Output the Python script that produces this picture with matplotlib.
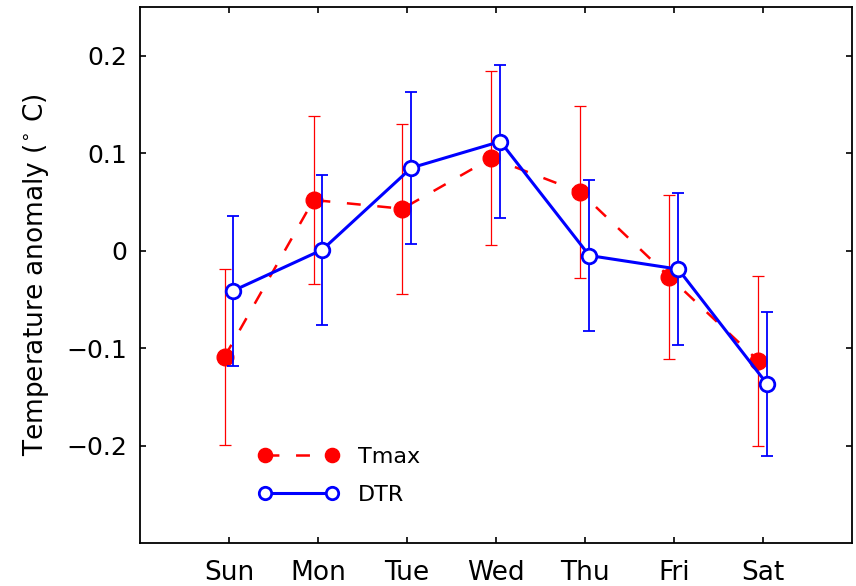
import matplotlib
matplotlib.use('Agg')
import matplotlib.pyplot as plt
import numpy as np

plt.rcParams['font.family'] = ['DejaVu Sans']
plt.rcParams['lines.scale_dashes'] = False

# data
days = ['Sun', 'Mon', 'Tue', 'Wed', 'Thu', 'Fri', 'Sat']
tmax = [-0.109, 0.052, 0.043, 0.095, 0.060, -0.027, -0.113]
tmax_err = [0.090, 0.086, 0.087, 0.089, 0.088, 0.084, 0.087]
dtr = [-0.041, 0.001, 0.085, 0.112, -0.005, -0.019, -0.137]
dtr_err = [0.077, 0.077, 0.078, 0.078, 0.077, 0.078, 0.074]
yticks = [-0.2, -0.1, 0, 0.1, 0.2]
ytick_labels = ['\u22120.2', '\u22120.1', '0', '0.1', '0.2']

x = np.arange(1, len(days) + 1)
dx = 0.05  # small horizontal shift so the bars don't overlap

fig = plt.figure(figsize=(8.56, 5.86), dpi=100)
ax = fig.add_axes([0.1636, 0.0734, 0.8314, 0.9146])

# Tmax - red, dashed, filled circles
ax.errorbar(x - dx, tmax, yerr=tmax_err, color='red', ecolor='red',
            elinewidth=0.9, capsize=4.5, capthick=0.9, fmt='none', zorder=2)
l1, = ax.plot(x - dx, tmax, color='red', lw=1.8, marker='o', ms=12,
              mfc='red', mec='red', zorder=3, label='Tmax')
l1.set_dashes([10, 12])

# DTR - blue, solid, open circles
ax.errorbar(x + dx, dtr, yerr=dtr_err, color='blue', ecolor='blue',
            elinewidth=1.3, capsize=4.5, capthick=1.3, fmt='none', zorder=4)
l2, = ax.plot(x + dx, dtr, color='blue', lw=2.2, marker='o', ms=10.5,
              mfc='white', mec='blue', mew=2, zorder=5, label='DTR')

ax.set_xlim(0, 8)
ax.set_ylim(-0.3, 0.25)
ax.set_xticks(x)
ax.set_xticklabels(days, fontsize=19)
ax.set_yticks(yticks)
ax.set_yticklabels(ytick_labels, fontsize=18)
ax.tick_params(direction='in', top=True, right=True, length=4, width=1.2)
ax.tick_params(axis='x', pad=12)
ax.tick_params(axis='y', pad=9)
for s in ax.spines.values():
    s.set_linewidth(1.3)

ax.set_ylabel('Temperature anomaly ($^{\\circ}$ C)', fontsize=19, labelpad=11)

leg = ax.legend(handles=[l1, l2], loc='upper left', bbox_to_anchor=(0.166, 0.179),
                frameon=False, fontsize=16, numpoints=2, handlelength=3.6,
                borderpad=0, borderaxespad=0, labelspacing=0.82,
                handletextpad=0.87, markerscale=0.85)

fig.savefig('out.png', dpi=100)
